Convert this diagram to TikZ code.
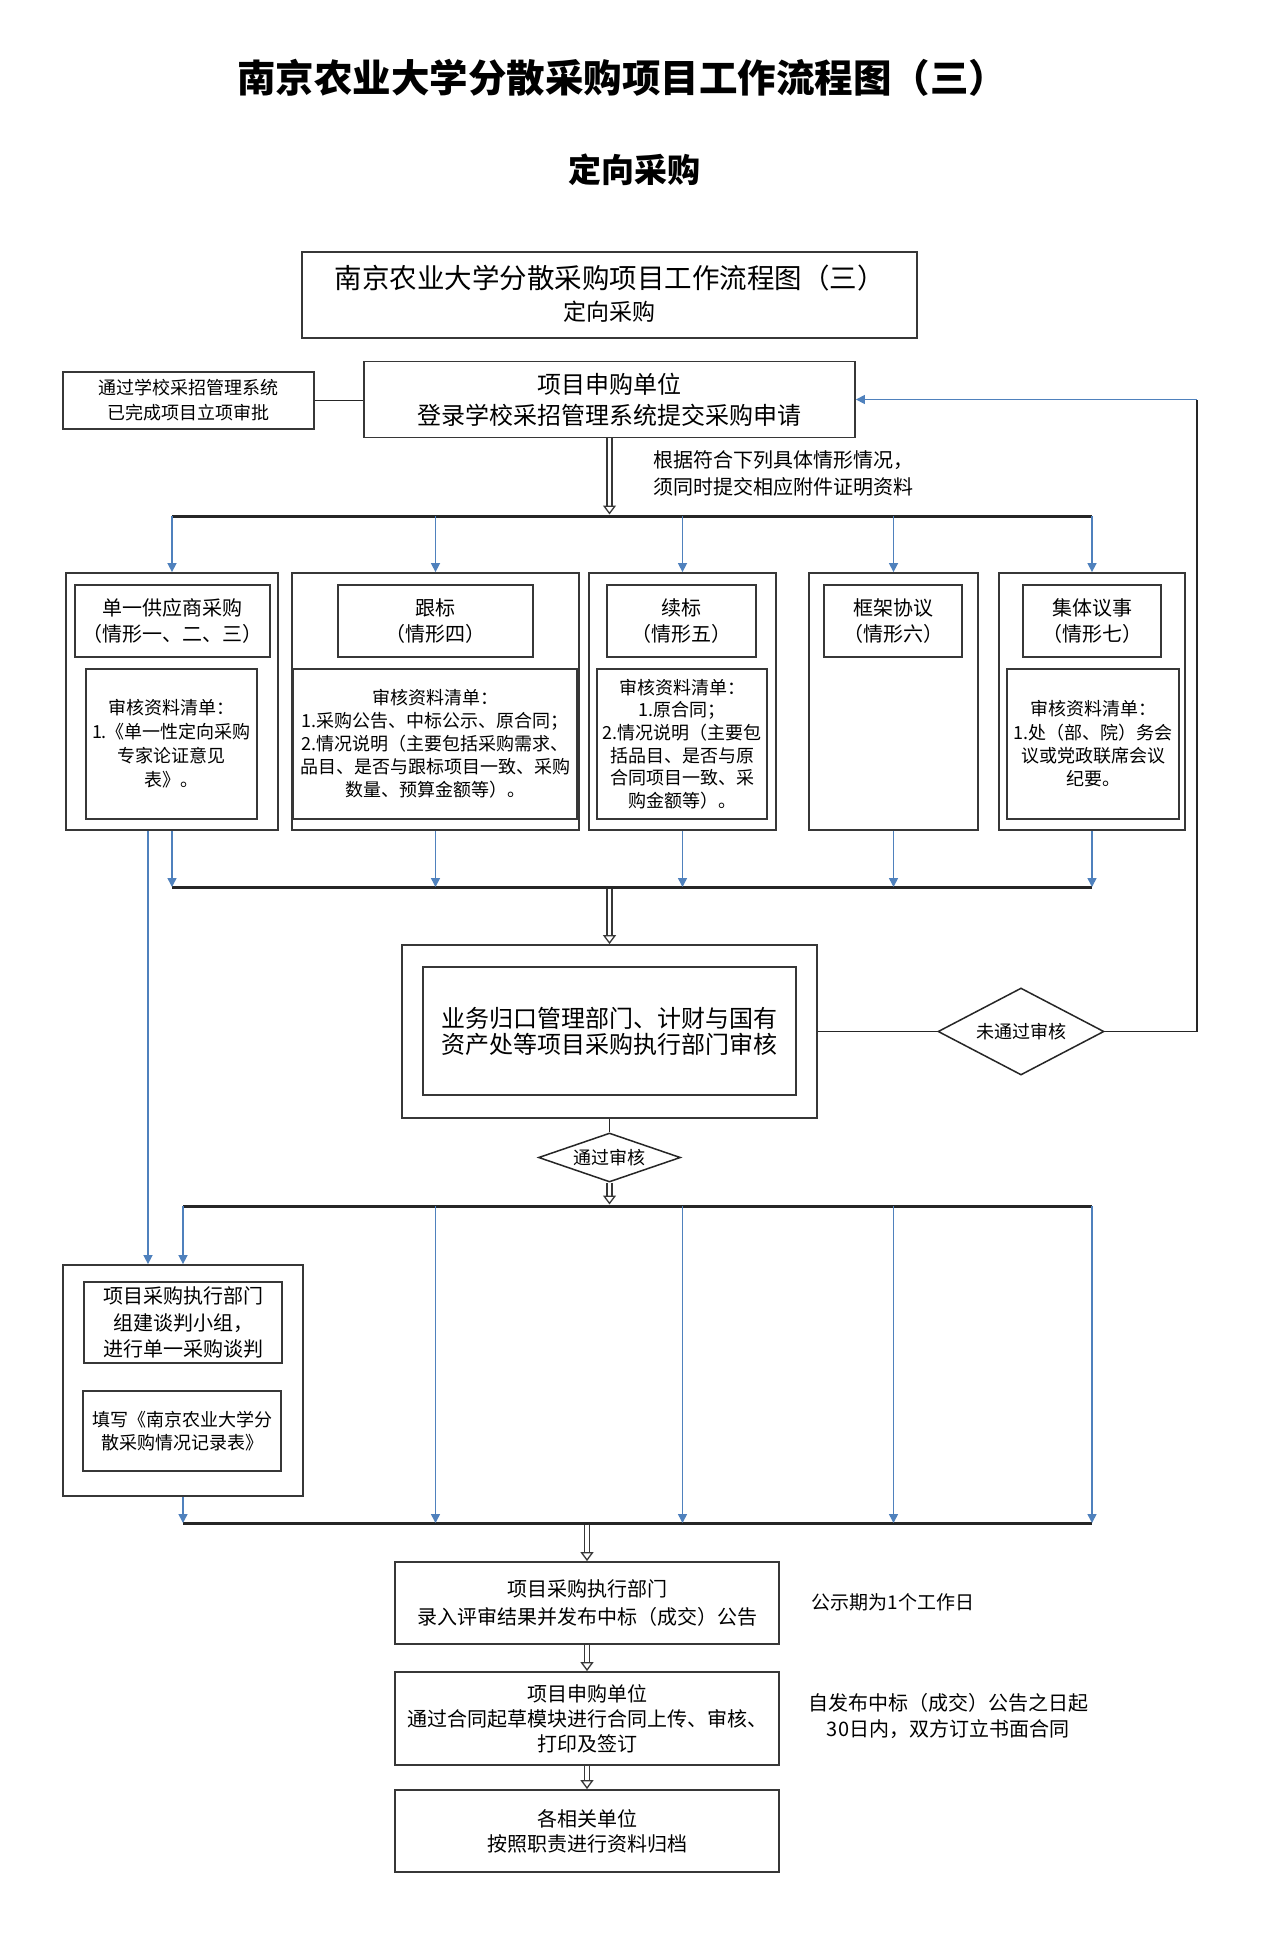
\documentclass[tikz,border=0pt]{standalone}
\usepackage{fontspec}
\setmainfont{Noto Sans CJK SC}
\usetikzlibrary{arrows.meta,shapes.geometric}
\definecolor{ablue}{RGB}{79,129,189}
\definecolor{edge}{RGB}{55,55,55}
\newcommand{\fs}[2]{\fontsize{#1}{#2}\selectfont}
\begin{document}
\begin{tikzpicture}[x=1pt,y=-1pt,
  box/.style={draw=edge, line width=1.8pt, rectangle, inner sep=0pt, align=center},
  bar/.style={draw=black!85, line width=3pt},
  bl/.style={draw=ablue, line width=1.5pt, -{Triangle[length=9pt,width=9pt]}},
  dbl/.style={draw=edge, line width=1.3pt, double distance=3.5pt, -{Triangle[open,length=9pt,width=13pt]}},
  plain/.style={draw=black!85, line width=1.8pt},
  dia/.style={diamond, draw=black!85, line width=1.5pt, inner sep=0pt}
]
\path[use as bounding box, fill=white] (0,0) rectangle (1264,1948);

% headings
\node[font=\bfseries\fs{38.5}{44}] (ttl) at (622,78) {南京农业大学分散采购项目工作流程图（三）};
\node[font=\bfseries\fs{33}{40}] (sub) at (634,170) {定向采购};

% top box
\node[box, minimum width=615, minimum height=86] (top) at (609.5,295) {};
\node[font=\fs{27.5}{32}] (topt1) at (609.5,278) {南京农业大学分散采购项目工作流程图（三）};
\node[font=\fs{23}{28}] (topt2) at (609.5,312) {定向采购};

% application
\node[box, minimum width=251, minimum height=57, font=\fs{18}{25}] (reg) at (188.5,400.5) {通过学校采招管理系统\\已完成项目立项审批};
\node[box, minimum width=491, minimum height=76, font=\fs{24}{31}] (apply) at (609.5,399.5) {项目申购单位\\登录学校采招管理系统提交采购申请};
\draw[plain] (reg.east) -- (reg.east -| apply.west);

\node[font=\fs{20}{27}, align=left, anchor=west] (note1) at (650,473.5) {根据符合下列具体情形情况，\\须同时提交相应附件证明资料};

\coordinate (b1L) at (172,516);
\coordinate (b1R) at (1092,516);
\draw[bar] (b1L) -- (b1R);
\draw[dbl, shorten >=1.5pt] (apply.south) -- (apply.south |- b1L);

% columns
\node[box, minimum width=212, minimum height=257] (c1) at (172,701.5) {};
\node[box, minimum width=287, minimum height=257] (c2) at (435.5,701.5) {};
\node[box, minimum width=187, minimum height=257] (c3) at (682.5,701.5) {};
\node[box, minimum width=169, minimum height=257] (c4) at (893.5,701.5) {};
\node[box, minimum width=186, minimum height=257] (c5) at (1092,701.5) {};

\node[box, minimum width=195, minimum height=72, font=\fs{20}{26}] (t1) at (172.5,621) {单一供应商采购\\（情形一、二、三）};
\node[box, minimum width=195, minimum height=72, font=\fs{20}{26}] (t2) at (435.5,621) {跟标\\（情形四）};
\node[box, minimum width=149, minimum height=72, font=\fs{20}{26}] (t3) at (681.5,621) {续标\\（情形五）};
\node[box, minimum width=138, minimum height=72, font=\fs{20}{26}] (t4) at (893,621) {框架协议\\（情形六）};
\node[box, minimum width=138, minimum height=72, font=\fs{20}{26}] (t5) at (1092,621) {集体议事\\（情形七）};

\node[box, minimum width=171, minimum height=150, font=\fs{18}{24}] (l1) at (171.5,744) {审核资料清单：\\1.《单一性定向采购\\专家论证意见\\表》。};
\node[box, minimum width=284, minimum height=150, font=\fs{18}{23}] (l2) at (435,744) {审核资料清单：\\1.采购公告、中标公示、原合同；\\2.情况说明（主要包括采购需求、\\品目、是否与跟标项目一致、采购\\数量、预算金额等）。};
\node[box, minimum width=170, minimum height=150, font=\fs{18}{22.6}] (l3) at (682,744) {审核资料清单：\\1.原合同；\\2.情况说明（主要包\\括品目、是否与原\\合同项目一致、采\\购金额等）。};
\node[box, minimum width=172, minimum height=150, font=\fs{18}{23.3}] (l5) at (1093,744) {审核资料清单：\\1.处（部、院）务会\\议或党政联席会议\\纪要。};

\foreach \c in {c1,c2,c3,c4,c5} {
  \draw[bl] (\c.north |- b1L) -- (\c.north);
}

\coordinate (b2L) at (172,887);
\coordinate (b2R) at (1092,887);
\draw[bar] (b2L) -- (b2R);
\foreach \c in {c1,c2,c3,c4,c5} {
  \draw[bl] (\c.south) -- (\c.south |- b2L);
}

% review
\node[box, minimum width=415, minimum height=173] (rev) at (609.5,1031.5) {};
\node[box, minimum width=373, minimum height=128, font=\fs{24}{26}] (revin) at (609.5,1031) {业务归口管理部门、计财与国有\\资产处等项目采购执行部门审核};
\draw[dbl, shorten <=1.5pt] (b2L -| rev.north) -- (rev.north);

\node[dia, aspect=1.9, minimum width=166, minimum height=87, font=\fs{18}{22}] (no) at (1021,1031.5) {未通过审核};
\draw[plain] (rev.east) -- (no.west);
\coordinate (rc) at (1197,399.5);
\draw[plain] (no.east) -- (no.east -| rc) -- (rc);
\draw[bl] (rc) -- (apply.east);

\node[dia, aspect=2.9, minimum width=142, minimum height=49, font=\fs{18}{22}] (yes) at (609.5,1157.5) {通过审核};
\draw[plain] (rev.south) -- (yes.north);

\coordinate (b3L) at (183,1206);
\coordinate (b3R) at (1092,1206);
\draw[bar] (b3L) -- (b3R);
\draw[dbl, shorten >=1.5pt] (yes.south) -- (yes.south |- b3L);

% execution
\node[box, minimum width=240, minimum height=231] (exec) at (183,1380.5) {};
\node[box, minimum width=198, minimum height=81, font=\fs{20}{26.5}] (e1) at (183,1322.5) {项目采购执行部门\\组建谈判小组，\\进行单一采购谈判};
\node[box, minimum width=198, minimum height=80, font=\fs{18}{23}] (e2) at (182,1431) {填写《南京农业大学分\\散采购情况记录表》};

\draw[bl] ([xshift=-24pt]c1.south) -- ([xshift=-24pt]c1.south |- exec.north);
\draw[bl] (b3L) -- (exec.north);

\coordinate (b4L) at (183,1523);
\coordinate (b4R) at (1092,1523);
\draw[bar] (b4L) -- (b4R);
\foreach \c in {c2,c3,c4,c5} {
  \draw[bl] (\c.south |- b3L) -- (\c.south |- b4L);
}
\draw[bl] (exec.south) -- (exec.south |- b4L);

% final steps
\node[box, minimum width=384, minimum height=82, font=\fs{20}{28}] (pa) at (587,1603) {项目采购执行部门\\录入评审结果并发布中标（成交）公告};
\node[box, minimum width=384, minimum height=93, font=\fs{20}{25}] (pb) at (587,1718.5) {项目申购单位\\通过合同起草模块进行合同上传、审核、\\打印及签订};
\node[box, minimum width=384, minimum height=82, font=\fs{20}{25}] (pc) at (587,1831) {各相关单位\\按照职责进行资料归档};
\draw[dbl, shorten <=1.5pt] (b4L -| pa.north) -- (pa.north);
\draw[dbl] (pa.south) -- (pb.north);
\draw[dbl] (pb.south) -- (pc.north);

\node[font=\fs{19}{24}, anchor=west] (n2) at (808,1602) {公示期为1个工作日};
\node[font=\fs{20}{26}, align=center] (n3) at (948,1716) {自发布中标（成交）公告之日起\\30日内，双方订立书面合同};
\end{tikzpicture}
\end{document}
